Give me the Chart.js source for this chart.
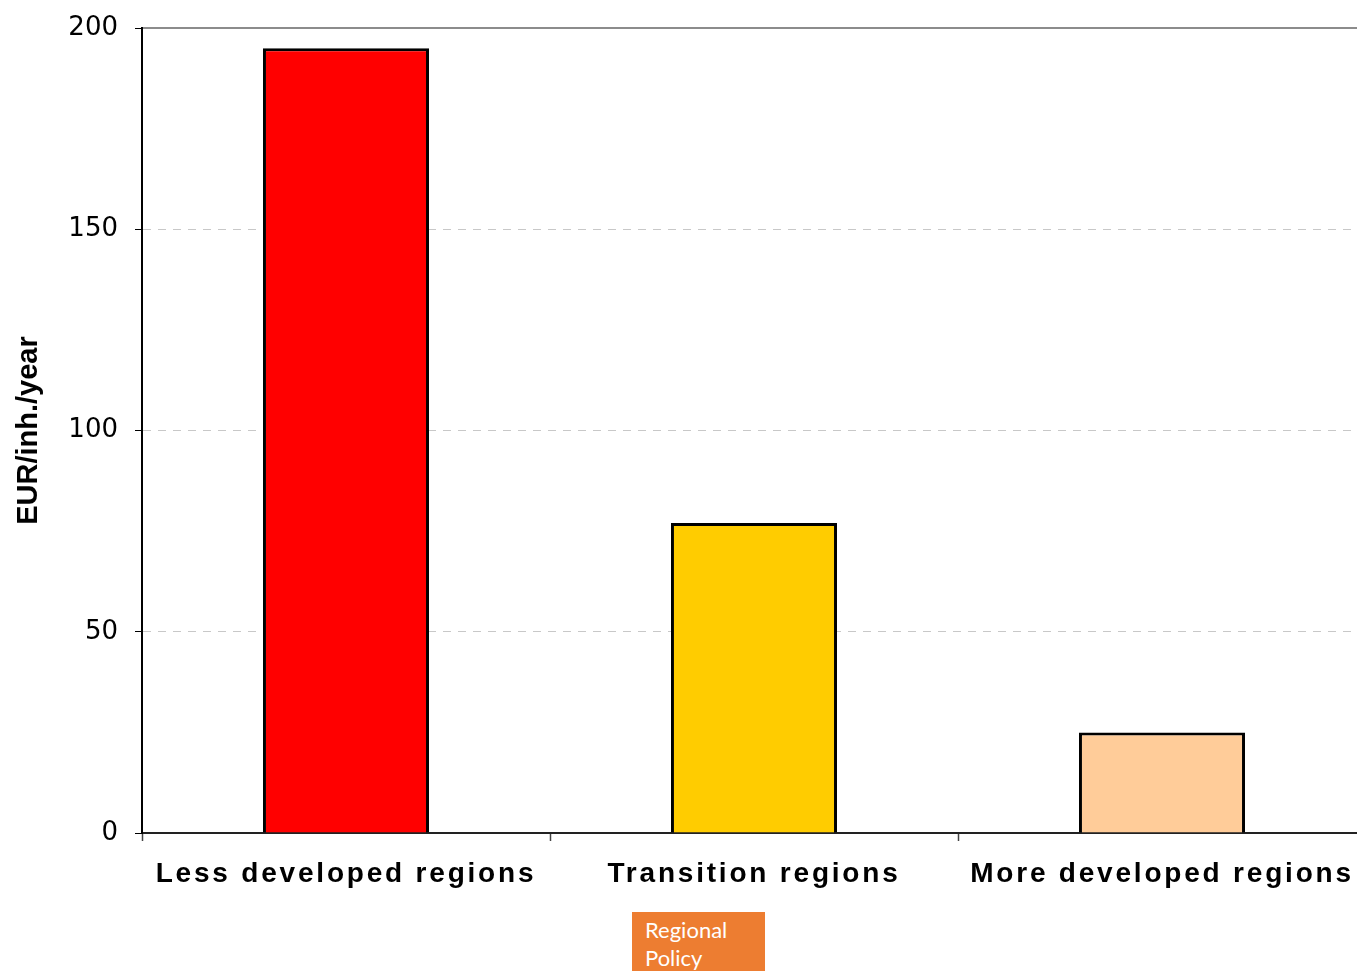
<!DOCTYPE html>
<html><head><meta charset="utf-8">
<script src="https://cdn.jsdelivr.net/npm/chart.js@4.4.1/dist/chart.umd.min.js"></script>
<style>
html,body{margin:0;padding:0;background:#fff;overflow:hidden;width:1357px;height:971px;}
#wrap{position:relative;width:1368px;height:971px;}
#logo{position:absolute;left:632px;top:912px;width:133px;height:70px;background:#ED7D31;color:#fff;font-family:Lato,'Open Sans',sans-serif;font-size:22px;line-height:28px;padding:4px 0 0 13px;box-sizing:border-box;}
</style></head><body>
<div id="wrap"><canvas id="c" width="1368" height="971"></canvas><div id="logo">Regional<br>Policy</div></div>
<script>
const categories = ['Less developed regions', 'Transition regions', 'More developed regions'];
const values = [195, 77, 25];
const barColors = ['#FF0000', '#FFCC00', '#FFCC99'];
const yTickValues = [0, 50, 100, 150, 200];
const yTitle = 'EUR/inh./year';

const spacingPlugin = {
  id: 'xLabelSpacing',
  afterUpdate(chart) {
    const sc = chart.scales.x;
    if (!sc || sc._wrappedSpacing) return;
    const orig = sc.drawLabels.bind(sc);
    sc.drawLabels = function (area) {
      const ctx = chart.ctx;
      const prev = ctx.letterSpacing;
      ctx.letterSpacing = '2.8px';
      orig(area);
      ctx.letterSpacing = prev || '0px';
    };
    sc._wrappedSpacing = true;
  }
};

new Chart(document.getElementById('c'), {
  type: 'bar',
  data: {
    labels: categories,
    datasets: [{
      data: values,
      backgroundColor: barColors,
      borderColor: '#000',
      borderWidth: 3,
      barPercentage: 0.407,
      categoryPercentage: 1
    }]
  },
  options: {
    responsive: false,
    animation: false,
    layout: { padding: { top: 28, right: 2, left: 0, bottom: 0 } },
    plugins: { legend: { display: false }, tooltip: { enabled: false } },
    scales: {
      x: {
        position: 'bottom',
        grid: { display: true, drawOnChartArea: false, drawTicks: true, tickLength: 8, tickColor: '#444', tickWidth: 1.5, offset: true },
        border: { color: '#222', width: 2 },
        ticks: { font: { family: 'Liberation Sans', size: 28, weight: 'bold' }, color: '#000', padding: 16, maxRotation: 0, autoSkip: false },
        afterFit: s => { s.height = 138; s.paddingLeft = 0; s.paddingRight = 0; }
      },
      x2: {
        position: 'top',
        display: true,
        grid: { display: false, drawTicks: false },
        ticks: { display: false },
        border: { display: true, color: '#8c8c8c', width: 2 },
        afterFit: s => { s.height = 0; }
      },
      y: {
        min: 0, max: 200,
        afterBuildTicks: s => { s.ticks = yTickValues.map(v => ({ value: v })); },
        grid: {
          color: c => (c.tick && (c.tick.value === 0 || c.tick.value === 200)) ? 'rgba(0,0,0,0)' : '#c8c8c8',
          lineWidth: 1, tickColor: '#000', tickLength: 7, tickWidth: 1
        },
        border: { color: '#000', width: 2, dash: [8, 7] },
        ticks: { font: { family: 'DejaVu Sans', size: 26 }, color: '#000', padding: 17 },
        title: { display: true, text: yTitle, color: '#000', font: { family: 'Liberation Sans', size: 29, weight: 'bold' }, padding: { top: 12, bottom: 0 } },
        afterFit: s => { s.width = 142; s.paddingTop = 0; s.paddingBottom = 0; }
      }
    }
  },
  plugins: [spacingPlugin]
});
</script>
</body></html>
